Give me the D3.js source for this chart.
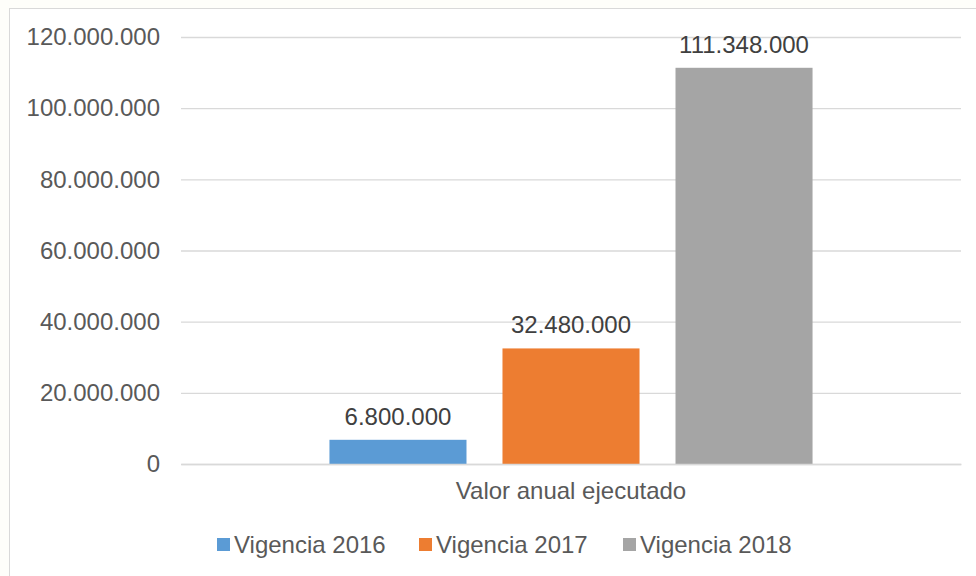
<!DOCTYPE html>
<html><head><meta charset="utf-8">
<script src="https://cdn.jsdelivr.net/npm/d3@7"></script>
<style>html,body{margin:0;padding:0;background:#fefefa;}svg{display:block;}</style>
</head><body>
<script>
const categories = ["Valor anual ejecutado"];
const seriesNames = ["Vigencia 2016", "Vigencia 2017", "Vigencia 2018"];
const seriesValues = [6800000, 32480000, 111348000];
const seriesColors = ["#5b9bd5", "#ed7d31", "#a5a5a5"];
const yTicks = [0, 20000000, 40000000, 60000000, 80000000, 100000000, 120000000];

(function () {
const W = 976, H = 576;
const svg = d3.select("body").append("svg").attr("width", W).attr("height", H);
svg.append("rect").attr("x", 9.5).attr("y", 8.5).attr("width", W).attr("height", H)
  .attr("fill", "#fff").attr("stroke", "#d9d9d9");

const fmt = v => d3.format(",")(v).replace(/,/g, ".");
const font = "Liberation Sans, Arial, sans-serif";
const fs = 24;
const pLeft = 181, pRight = 961, pTop = 37, pBottom = 464;

const y = d3.scaleLinear().domain([0, 120000000]).range([pBottom, pTop]);
const x0 = d3.scaleBand().domain(categories).range([pLeft, pRight]).paddingInner(0).paddingOuter(0);
const x1 = d3.scaleBand().domain(seriesNames).range([0, x0.bandwidth()]).paddingInner(0.208).paddingOuter(0.858);

const yAxis = d3.axisLeft(y).tickValues(yTicks).tickFormat(fmt).tickSize(-(pRight - pLeft)).tickPadding(21);
const gy = svg.append("g").attr("transform", `translate(${pLeft},0)`).call(yAxis);
gy.select(".domain").remove();
gy.selectAll(".tick line").attr("stroke", "#d9d9d9").attr("stroke-width", 1.3);
gy.selectAll(".tick text").attr("fill", "#595959").attr("font-size", fs).attr("font-family", font);

const g = svg.append("g");
categories.forEach(c => {
  seriesNames.forEach((s, i) => {
    const bx = x0(c) + x1(s);
    g.append("rect").attr("x", bx).attr("y", y(seriesValues[i]))
      .attr("width", x1.bandwidth()).attr("height", pBottom - y(seriesValues[i]))
      .attr("fill", seriesColors[i]);
    g.append("text").attr("x", bx + x1.bandwidth() / 2).attr("y", y(seriesValues[i]) - 15)
      .attr("text-anchor", "middle").attr("font-size", fs).attr("font-family", font)
      .attr("fill", "#404040").text(fmt(seriesValues[i]));
  });
});

const xAxis = d3.axisBottom(x0).tickSize(0).tickPadding(18);
const gx = svg.append("g").attr("transform", `translate(0,${pBottom})`).call(xAxis);
gx.select(".domain").attr("stroke", "#d9d9d9").attr("stroke-width", 1.3);
gx.selectAll(".tick text").attr("fill", "#595959").attr("font-size", fs).attr("font-family", font);

const legX = [217, 419, 623];
const lg = svg.append("g");
seriesNames.forEach((s, i) => {
  lg.append("rect").attr("x", legX[i]).attr("y", 538).attr("width", 13).attr("height", 13).attr("fill", seriesColors[i]);
  lg.append("text").attr("x", legX[i] + 17).attr("y", 553).attr("font-size", fs).attr("font-family", font)
    .attr("fill", "#595959").text(s);
});
})();
</script>
</body></html>
